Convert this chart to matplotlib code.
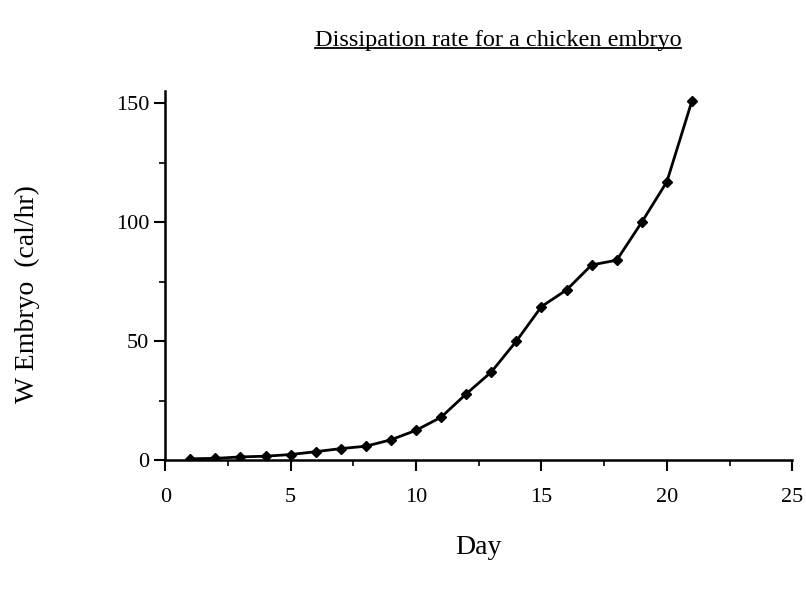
import matplotlib.pyplot as plt
from matplotlib.lines import Line2D
from matplotlib.ticker import MultipleLocator

# data
days = [1, 2, 3, 4, 5, 6, 7, 8, 9, 10, 11, 12, 13, 14, 15, 16, 17, 18, 19, 20, 21]
w_embryo = [0.5, 0.7, 1.3, 1.6, 2.3, 3.5, 4.8, 5.8, 8.5, 12.5, 18.0, 27.8, 37.0, 50.0,
            64.5, 71.5, 82.0, 84.0, 100.0, 117.0, 151.0]
x_ticks = [0, 5, 10, 15, 20, 25]
y_ticks = [0, 50, 100, 150]

plt.rcParams['font.family'] = ['Liberation Serif', 'DejaVu Serif']

fig = plt.figure(figsize=(8.06, 5.89), dpi=100)
ax = fig.add_axes([0.205, 0.219, 0.778, 0.626])

ax.plot(days, w_embryo, color='black', lw=2, marker='D', ms=5.5)

ax.set_xlim(0, 25)
ax.set_ylim(0, 155)
ax.set_xticks(x_ticks)
ax.set_yticks(y_ticks)
ax.xaxis.set_minor_locator(MultipleLocator(2.5))
ax.yaxis.set_minor_locator(MultipleLocator(25))
ax.tick_params(which='major', length=8, width=1.5, labelsize=16, direction='out')
ax.tick_params(which='minor', length=4, width=1.2, direction='out')
ax.tick_params(axis='x', pad=12)

for s in ['top', 'right']:
    ax.spines[s].set_visible(False)
for s in ['left', 'bottom']:
    ax.spines[s].set_linewidth(1.8)

ax.set_xlabel('Day', fontsize=20, labelpad=20)
ax.set_ylabel('W Embryo  (cal/hr)', fontsize=20, labelpad=46)
ax.yaxis.set_label_coords(-0.2, 0.45)

# title with underline
title = fig.text(0.618, 0.932, 'Dissipation rate for a chicken embryo',
                 ha='center', va='center', fontsize=17.5)
fig.canvas.draw()
bb = title.get_window_extent().transformed(fig.transFigure.inverted())
fig.add_artist(Line2D([bb.x0, bb.x1], [bb.y0 + 0.004, bb.y0 + 0.004],
                      transform=fig.transFigure, color='black', lw=1.3))

fig.savefig('out.png', dpi=100)
